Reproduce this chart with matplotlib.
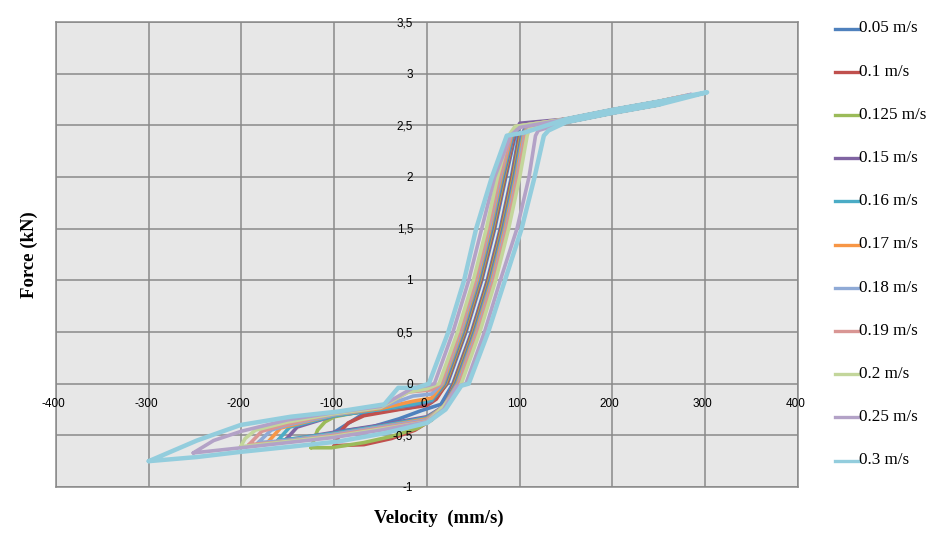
import matplotlib
matplotlib.use("Agg")
import matplotlib.pyplot as plt
from matplotlib.lines import Line2D
import numpy as np

# ---------------- data ----------------
LABELS = ["0.05 m/s", "0.1 m/s", "0.125 m/s", "0.15 m/s", "0.16 m/s", "0.17 m/s",
          "0.18 m/s", "0.19 m/s", "0.2 m/s", "0.25 m/s", "0.3 m/s"]
COLORS = ["#4F81BD", "#C0504D", "#9BBB59", "#8064A2", "#4BACC6", "#F79646",
          "#8FAAD6", "#D99694", "#C3D69B", "#B3A2C7", "#93CDDD"]

# left tip of each loop (velocity mm/s, force kN)
TIP_V = [-100, -100, -125, -152, -161, -172, -182, -192, -201, -252, -300]
TIP_F = [-0.47, -0.60, -0.62, -0.54, -0.55, -0.57, -0.57, -0.59, -0.61, -0.67, -0.75]

# upper-left branch (from tip towards zero)
UP_V = [
    [-70, -50, -17, 5],
    [-92, -85, -68, -30, 0, 10],
    [-118, -110, -100, -70, -30, 5],
    [-140, -100, -50, -15, 5],
    [-148, -100, -50, -15, 5],
    [-158, -100, -50, -15, 5],
    [-168, -150, -100, -50, -15, 5],
    [-178, -150, -100, -50, -20, 5],
    [-196, -185, -150, -100, -50, -20, 0],
    [-230, -200, -150, -100, -50, -15, 0],
    [-248, -201, -147, -96, -46, -31, -11],
]
UP_F = [
    [-0.30, -0.27, -0.23, -0.18],
    [-0.45, -0.38, -0.31, -0.25, -0.21, -0.15],
    [-0.45, -0.37, -0.32, -0.27, -0.23, -0.17],
    [-0.42, -0.31, -0.25, -0.21, -0.17],
    [-0.42, -0.31, -0.25, -0.20, -0.16],
    [-0.43, -0.30, -0.24, -0.17, -0.14],
    [-0.45, -0.40, -0.30, -0.23, -0.12, -0.10],
    [-0.46, -0.39, -0.29, -0.23, -0.08, -0.06],
    [-0.53, -0.45, -0.37, -0.29, -0.23, -0.08, -0.05],
    [-0.55, -0.46, -0.35, -0.28, -0.22, -0.04, -0.02],
    [-0.55, -0.40, -0.32, -0.27, -0.20, -0.04, -0.04],
]

# steep branches: velocity at the force levels F_STEEP
F_STEEP = [0.0, 0.5, 1.0, 1.5, 2.0, 2.4]
RISE_V = [
    [22, 42, 59, 73, 85, 95],
    [21, 41, 58, 72, 84, 94],
    [20, 40, 57, 71, 83, 93],
    [19, 39, 56, 70, 82, 93],
    [18, 38, 55, 69, 81, 92],
    [17, 37, 54, 68, 80, 91],
    [16, 36, 53, 67, 79, 90],
    [15, 35, 52, 66, 78, 90],
    [13, 33, 50, 64, 76, 88],
    [8, 28, 45, 59, 73, 90],
    [2, 23, 40, 53, 70, 86],
]
FALL_V = [
    [28, 48, 65, 79, 91, 99],
    [29, 49, 66, 80, 92, 100],
    [30, 50, 67, 81, 93, 101],
    [31, 51, 68, 82, 94, 102],
    [32, 52, 69, 83, 95, 103],
    [33, 53, 70, 84, 96, 104],
    [34, 54, 71, 85, 97, 105],
    [35, 55, 72, 86, 98, 106],
    [37, 57, 74, 88, 100, 108],
    [42, 62, 79, 97, 110, 117],
    [45, 66, 84, 102, 116, 126],
]
# corners where steep branches meet the plateau
CORNER_UP_V = [100, 99, 98, 100, 98, 97, 97, 96, 95, 100, 105]
CORNER_UP_F = [2.49, 2.49, 2.49, 2.52, 2.49, 2.49, 2.49, 2.49, 2.49, 2.48, 2.43]
CORNER_DN_V = [108, 107, 106, 105, 106, 107, 108, 109, 110, 120, 131]
CORNER_DN_F = [2.46, 2.46, 2.46, 2.46, 2.46, 2.46, 2.46, 2.46, 2.46, 2.45, 2.45]

# plateau (shared)
PLAT_V = [150, 200, 250]
PLAT_F_UP = [2.56, 2.65, 2.73]
PLAT_F_DN = [2.53, 2.62, 2.70]
MAX_V = [250, 255, 260, 265, 268, 270, 272, 275, 280, 285, 302]
MAX_F = [2.73, 2.74, 2.75, 2.76, 2.76, 2.77, 2.77, 2.78, 2.79, 2.80, 2.82]

# lower-left branch (from zero back towards tip)
LO_V = [
    [15, -6, -30, -60],
    [20, 5, -13, -38, -68],
    [20, 5, -10, -38, -68, -103],
    [18, 0, -50, -100, -140],
    [18, 0, -50, -100, -150],
    [18, 0, -50, -100, -150],
    [18, 0, -50, -100, -150],
    [18, 0, -50, -100, -150],
    [18, 0, -50, -100, -150],
    [32, 18, 0, -50, -100, -150, -200],
    [37, 20, 0, -46, -96, -147, -201, -248],
]
LO_F = [
    [-0.20, -0.26, -0.34, -0.42],
    [-0.20, -0.35, -0.45, -0.53, -0.59],
    [-0.20, -0.35, -0.43, -0.51, -0.57, -0.62],
    [-0.22, -0.32, -0.40, -0.47, -0.53],
    [-0.22, -0.33, -0.41, -0.48, -0.54],
    [-0.22, -0.34, -0.42, -0.49, -0.55],
    [-0.22, -0.35, -0.42, -0.49, -0.55],
    [-0.22, -0.36, -0.43, -0.50, -0.56],
    [-0.22, -0.37, -0.44, -0.51, -0.56],
    [-0.03, -0.25, -0.37, -0.45, -0.52, -0.57, -0.62],
    [-0.02, -0.25, -0.38, -0.48, -0.56, -0.61, -0.66, -0.71],
]

X_TICKS = [-400, -300, -200, -100, 0, 100, 200, 300, 400]
Y_TICKS = [-1, -0.5, 0, 0.5, 1, 1.5, 2, 2.5, 3, 3.5]
Y_TICK_LABELS = ["-1", "-0,5", "0", "0,5", "1", "1,5", "2", "2,5", "3", "3,5"]

# ---------------- figure ----------------
W, H = 929, 548
fig = plt.figure(figsize=(W / 100, H / 100), dpi=100)
fig.patch.set_facecolor("white")
L, R, T, B = 56, 798, 22, 487
ax = fig.add_axes([L / W, 1 - B / H, (R - L) / W, (B - T) / H])
ax.set_xlim(-400, 400)
ax.set_ylim(-1, 3.5)
ax.set_facecolor("#e7e7e7")
ax.set_xticks(X_TICKS)
ax.set_yticks(Y_TICKS)
ax.grid(True, color="#8a8a8a", lw=1.1, zorder=1)
ax.tick_params(length=0, labelbottom=False, labelleft=False)
for s in ax.spines.values():
    s.set_color("#8a8a8a")
    s.set_linewidth(1.1)

for i in range(len(LABELS)):
    vs = [TIP_V[i]] + UP_V[i] + RISE_V[i] + [CORNER_UP_V[i]]
    fs = [TIP_F[i]] + UP_F[i] + F_STEEP + [CORNER_UP_F[i]]
    for pv, pf in zip(PLAT_V, PLAT_F_UP):
        if pv < MAX_V[i] and pv > CORNER_UP_V[i]:
            vs.append(pv); fs.append(pf)
    vs.append(MAX_V[i]); fs.append(MAX_F[i])
    for pv, pf in zip(PLAT_V[::-1], PLAT_F_DN[::-1]):
        if pv < MAX_V[i] and pv > CORNER_DN_V[i]:
            vs.append(pv); fs.append(pf)
    vs.append(CORNER_DN_V[i]); fs.append(CORNER_DN_F[i])
    vs += FALL_V[i][::-1]; fs += F_STEEP[::-1]
    vs += LO_V[i]; fs += LO_F[i]
    vs.append(TIP_V[i]); fs.append(TIP_F[i])
    lw = 3.2 if i == len(LABELS) - 1 else 2.6
    ax.plot(vs, fs, color=COLORS[i], lw=lw, solid_joinstyle="round",
            solid_capstyle="round", zorder=3 + i)

tick_font = dict(family="Liberation Sans", fontsize=8.5, color="black")
for xv in X_TICKS:
    ax.text(xv - 3, -0.2, str(xv), ha="center", va="center", zorder=30, **tick_font)
for yv, yl in zip(Y_TICKS, Y_TICK_LABELS):
    ax.text(-15, yv - 0.01, yl, ha="right", va="center", zorder=30,
            clip_on=False, **tick_font)

fig.text(29 / W, 1 - 255 / H, "Force (kN)", rotation=90, ha="center", va="center",
         family="Liberation Serif", fontweight="bold", fontsize=13.5)
fig.text(439 / W, 1 - 518 / H, "Velocity  (mm/s)", ha="center", va="center",
         family="Liberation Serif", fontweight="bold", fontsize=13.5)

# legend
LEG_Y0, LEG_DY = 28.5, 43.2
for i, (lab, col) in enumerate(zip(LABELS, COLORS)):
    y = 1 - (LEG_Y0 + i * LEG_DY) / H
    fig.add_artist(Line2D([835 / W, 859 / W], [y, y], transform=fig.transFigure,
                          color=col, lw=2.4))
    fig.text(859 / W, y, lab, ha="left", va="center", family="Liberation Serif",
             fontsize=12.3)

fig.savefig("out.png", dpi=100)
